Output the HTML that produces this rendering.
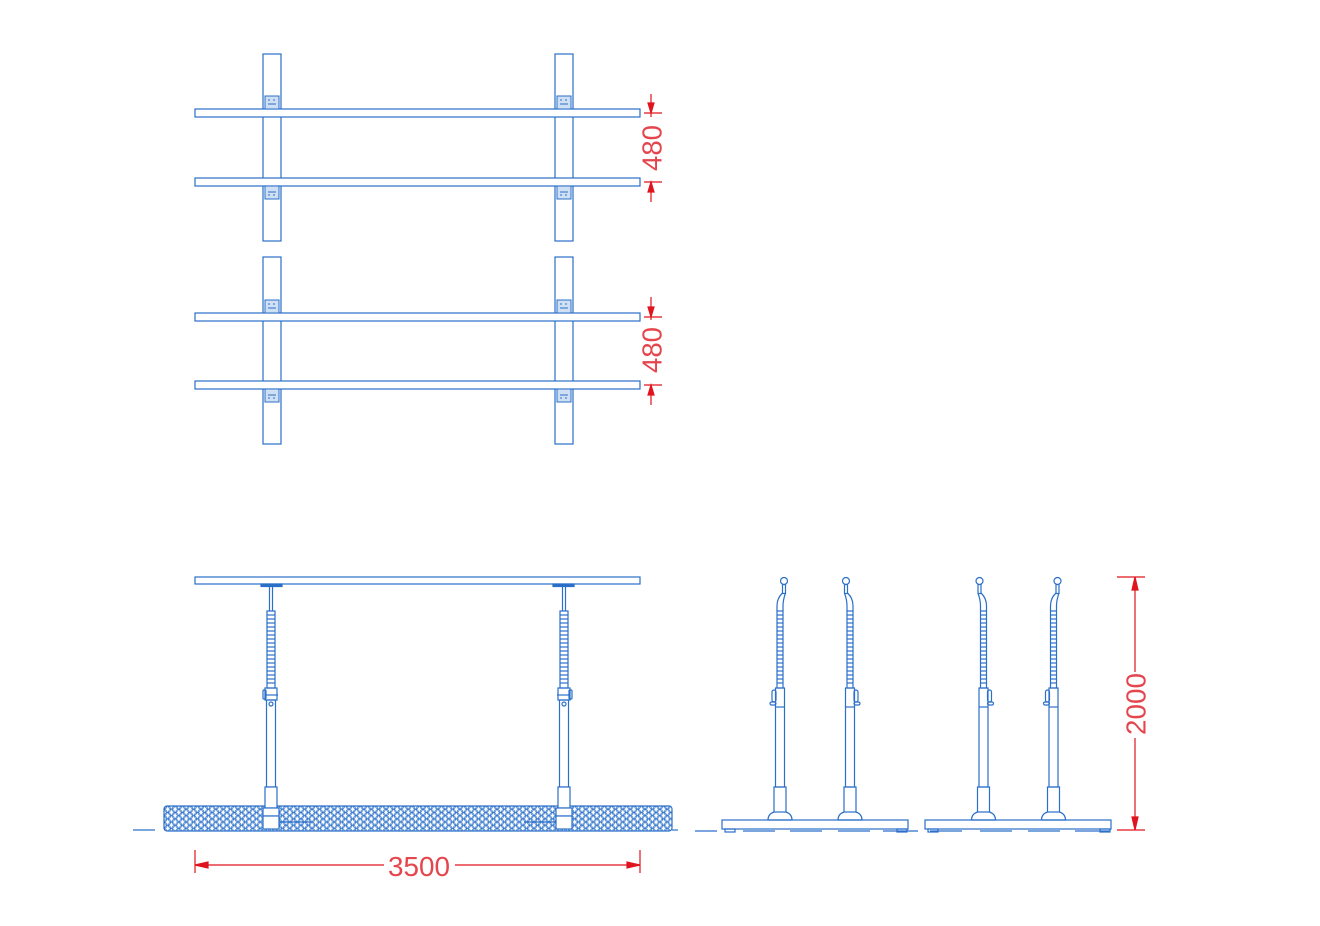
<!DOCTYPE html>
<html><head><meta charset="utf-8">
<style>html,body{margin:0;padding:0;background:#fff;}svg{display:block}</style>
</head><body>
<svg width="1320" height="926" viewBox="0 0 1320 926" xmlns="http://www.w3.org/2000/svg">
<defs>
<pattern id="hex" x="164" y="806" width="7.4" height="6.4" patternUnits="userSpaceOnUse">
<circle cx="3.7" cy="3.2" r="3.1" fill="none" stroke="#2a6fc9" stroke-width="0.7"/>
<circle cx="0" cy="0" r="3.1" fill="none" stroke="#2a6fc9" stroke-width="0.7"/>
<circle cx="7.4" cy="0" r="3.1" fill="none" stroke="#2a6fc9" stroke-width="0.7"/>
<circle cx="0" cy="6.4" r="3.1" fill="none" stroke="#2a6fc9" stroke-width="0.7"/>
<circle cx="7.4" cy="6.4" r="3.1" fill="none" stroke="#2a6fc9" stroke-width="0.7"/>
</pattern>
<g id="ridges">
<line x1="-4" x2="4" y1="615" y2="615"/><line x1="-4" x2="4" y1="619" y2="619"/><line x1="-4" x2="4" y1="623" y2="623"/><line x1="-4" x2="4" y1="627" y2="627"/><line x1="-4" x2="4" y1="631" y2="631"/><line x1="-4" x2="4" y1="635" y2="635"/><line x1="-4" x2="4" y1="639" y2="639"/><line x1="-4" x2="4" y1="643" y2="643"/><line x1="-4" x2="4" y1="647" y2="647"/><line x1="-4" x2="4" y1="651" y2="651"/><line x1="-4" x2="4" y1="655" y2="655"/><line x1="-4" x2="4" y1="659" y2="659"/><line x1="-4" x2="4" y1="663" y2="663"/><line x1="-4" x2="4" y1="667" y2="667"/><line x1="-4" x2="4" y1="671" y2="671"/><line x1="-4" x2="4" y1="675" y2="675"/><line x1="-4" x2="4" y1="679" y2="679"/><line x1="-4" x2="4" y1="683" y2="683"/>
</g>
<g id="epost" fill="none" stroke="#2a6fc9" stroke-width="1.2">
<rect x="-10" y="584" width="21" height="2.5" fill="#2a6fc9"/>
<line x1="-1.5" y1="586" x2="-1.5" y2="611"/><line x1="1.5" y1="586" x2="1.5" y2="611"/>
<rect x="-4" y="611" width="8" height="77"/>
<use href="#ridges"/>
<rect x="-6" y="688" width="12" height="12"/>
<rect x="-8" y="690" width="3" height="9" rx="1"/>
<line x1="-6" y1="695" x2="7" y2="695"/>
<circle cx="0" cy="704" r="2"/>
<rect x="-4.5" y="700" width="9" height="87"/>
<rect x="-6" y="787" width="12" height="21" fill="#fff"/>
<rect x="-8" y="808" width="16" height="8" fill="#fff"/>
<rect x="-8" y="816" width="16" height="13" fill="#fff"/>
<line x1="8" y1="822" x2="40" y2="822"/>
</g>
<g id="stand" fill="none" stroke="#2a6fc9" stroke-width="1.2">
<circle cx="4" cy="581" r="3.5"/>
<rect x="2.5" y="584.5" width="3" height="9"/>
<path d="M2.5 593 Q-3 598 -3 606 L-3 611 M5.5 593 Q3 600 3 606 L3 611"/>
<rect x="-3" y="611" width="6" height="77"/>
<g transform="scale(0.75,1)"><use href="#ridges"/></g>
<rect x="-4.5" y="688" width="9" height="99"/>
<line x1="-4.5" y1="707" x2="4.5" y2="707"/>
<rect x="-8" y="690" width="4" height="12" rx="2"/>
<rect x="-10" y="702" width="6" height="3" rx="1.5"/>
<rect x="-6" y="787" width="12" height="25"/>
<path d="M-6 812 Q-12 814 -12 820 L12 820 Q12 814 6 812"/>
</g>
</defs>

<g fill="none" stroke="#2a6fc9" stroke-width="1.2">
<rect x="263" y="54" width="18" height="187"/>
<rect x="555" y="54" width="18" height="187"/>
<rect x="263" y="257" width="18" height="187"/>
<rect x="555" y="257" width="18" height="187"/>
</g>
<g fill="#fff" stroke="#2a6fc9" stroke-width="1.2">
<rect x="195" y="109" width="445" height="8"/>
<rect x="195" y="178" width="445" height="8"/>
<rect x="195" y="313" width="445" height="8"/>
<rect x="195" y="381" width="445" height="8"/>
</g>
<g fill="#cfe0f5" stroke="#2a6fc9" stroke-width="1">
<rect x="265" y="96" width="14" height="13"/><rect x="557" y="96" width="14" height="13"/>
<rect x="265" y="186" width="14" height="13"/><rect x="557" y="186" width="14" height="13"/>
<rect x="265" y="300" width="14" height="13"/><rect x="557" y="300" width="14" height="13"/>
<rect x="265" y="389" width="14" height="13"/><rect x="557" y="389" width="14" height="13"/>
</g>
<g stroke="#2a6fc9" stroke-width="1">
<path d="M268 100h2M273 100h2M268 104h8M268 192h8M268 195h2M273 195h2"/>
<path d="M560 100h2M565 100h2M560 104h8M560 192h8M560 195h2M565 195h2"/>
<path d="M268 304h2M273 304h2M268 308h8M268 395h8M268 398h2M273 398h2"/>
<path d="M560 304h2M565 304h2M560 308h8M560 395h8M560 398h2M565 398h2"/>
</g>

<rect x="195" y="577" width="445" height="7" fill="none" stroke="#2a6fc9" stroke-width="1.2"/>
<rect x="164" y="806" width="508" height="25" rx="3" fill="url(#hex)" stroke="#2a6fc9" stroke-width="1.2"/>
<use href="#epost" transform="translate(271,0)"/>
<use href="#epost" transform="translate(564,0) scale(-1,1)"/>
<line x1="133" y1="830" x2="155" y2="830" stroke="#2a6fc9" stroke-width="1.2"/>
<line x1="672" y1="830" x2="678" y2="830" stroke="#2a6fc9" stroke-width="1.2"/>

<g fill="none" stroke="#2a6fc9" stroke-width="1.2">
<rect x="722" y="820" width="186" height="9"/>
<rect x="725" y="829" width="10" height="3"/><rect x="897" y="829" width="10" height="3"/>
<rect x="925" y="820" width="186" height="9"/>
<rect x="928" y="829" width="10" height="3"/><rect x="1100" y="829" width="10" height="3"/>
<path d="M695 831h22M743 831h32M790 831h32M838 831h32M883 831h35M930 831h32M980 831h32M1028 831h32M1075 831h35" />
</g>
<use href="#stand" transform="translate(780,0)"/>
<use href="#stand" transform="translate(850,0) scale(-1,1)"/>
<use href="#stand" transform="translate(983.5,0) scale(-1,1)"/>
<use href="#stand" transform="translate(1053.5,0)"/>

<g stroke="#e0141e" stroke-width="1.2" fill="#e0141e">
<line x1="651" y1="94" x2="651" y2="117"/><line x1="644" y1="113" x2="662" y2="113"/>
<polygon points="651,113 648,103 654,103"/>
<line x1="651" y1="182" x2="651" y2="202"/><line x1="644" y1="182" x2="662" y2="182"/>
<polygon points="651,182 648,192 654,192"/>
<line x1="651" y1="297" x2="651" y2="320"/><line x1="644" y1="317" x2="662" y2="317"/>
<polygon points="651,317 648,307 654,307"/>
<line x1="651" y1="385" x2="651" y2="405"/><line x1="644" y1="385" x2="662" y2="385"/>
<polygon points="651,385 648,395 654,395"/>
<line x1="195" y1="850" x2="195" y2="873"/><line x1="640" y1="850" x2="640" y2="873"/>
<line x1="195" y1="865" x2="384" y2="865"/><line x1="455" y1="865" x2="640" y2="865"/>
<polygon points="195,865 208,862 208,868"/><polygon points="640,865 627,862 627,868"/>
<line x1="1117" y1="577" x2="1145" y2="577"/><line x1="1117" y1="830" x2="1145" y2="830"/>
<line x1="1135" y1="577" x2="1135" y2="672"/><line x1="1135" y1="738" x2="1135" y2="830"/>
<polygon points="1135,577 1132,590 1138,590"/><polygon points="1135,830 1132,817 1138,817"/>
</g>
<g fill="#e5454c" font-family="'Liberation Sans', sans-serif" font-size="28" stroke="none">
<text x="652" y="148" text-anchor="middle" dominant-baseline="central" transform="rotate(-90 652 148)" textLength="46" lengthAdjust="spacingAndGlyphs">480</text>
<text x="652" y="350" text-anchor="middle" dominant-baseline="central" transform="rotate(-90 652 350)" textLength="46" lengthAdjust="spacingAndGlyphs">480</text>
<text x="419" y="876" text-anchor="middle" textLength="62" lengthAdjust="spacingAndGlyphs">3500</text>
<text x="1136" y="704" text-anchor="middle" dominant-baseline="central" transform="rotate(-90 1136 704)" textLength="62" lengthAdjust="spacingAndGlyphs">2000</text>
</g>
</svg>
</body></html>
